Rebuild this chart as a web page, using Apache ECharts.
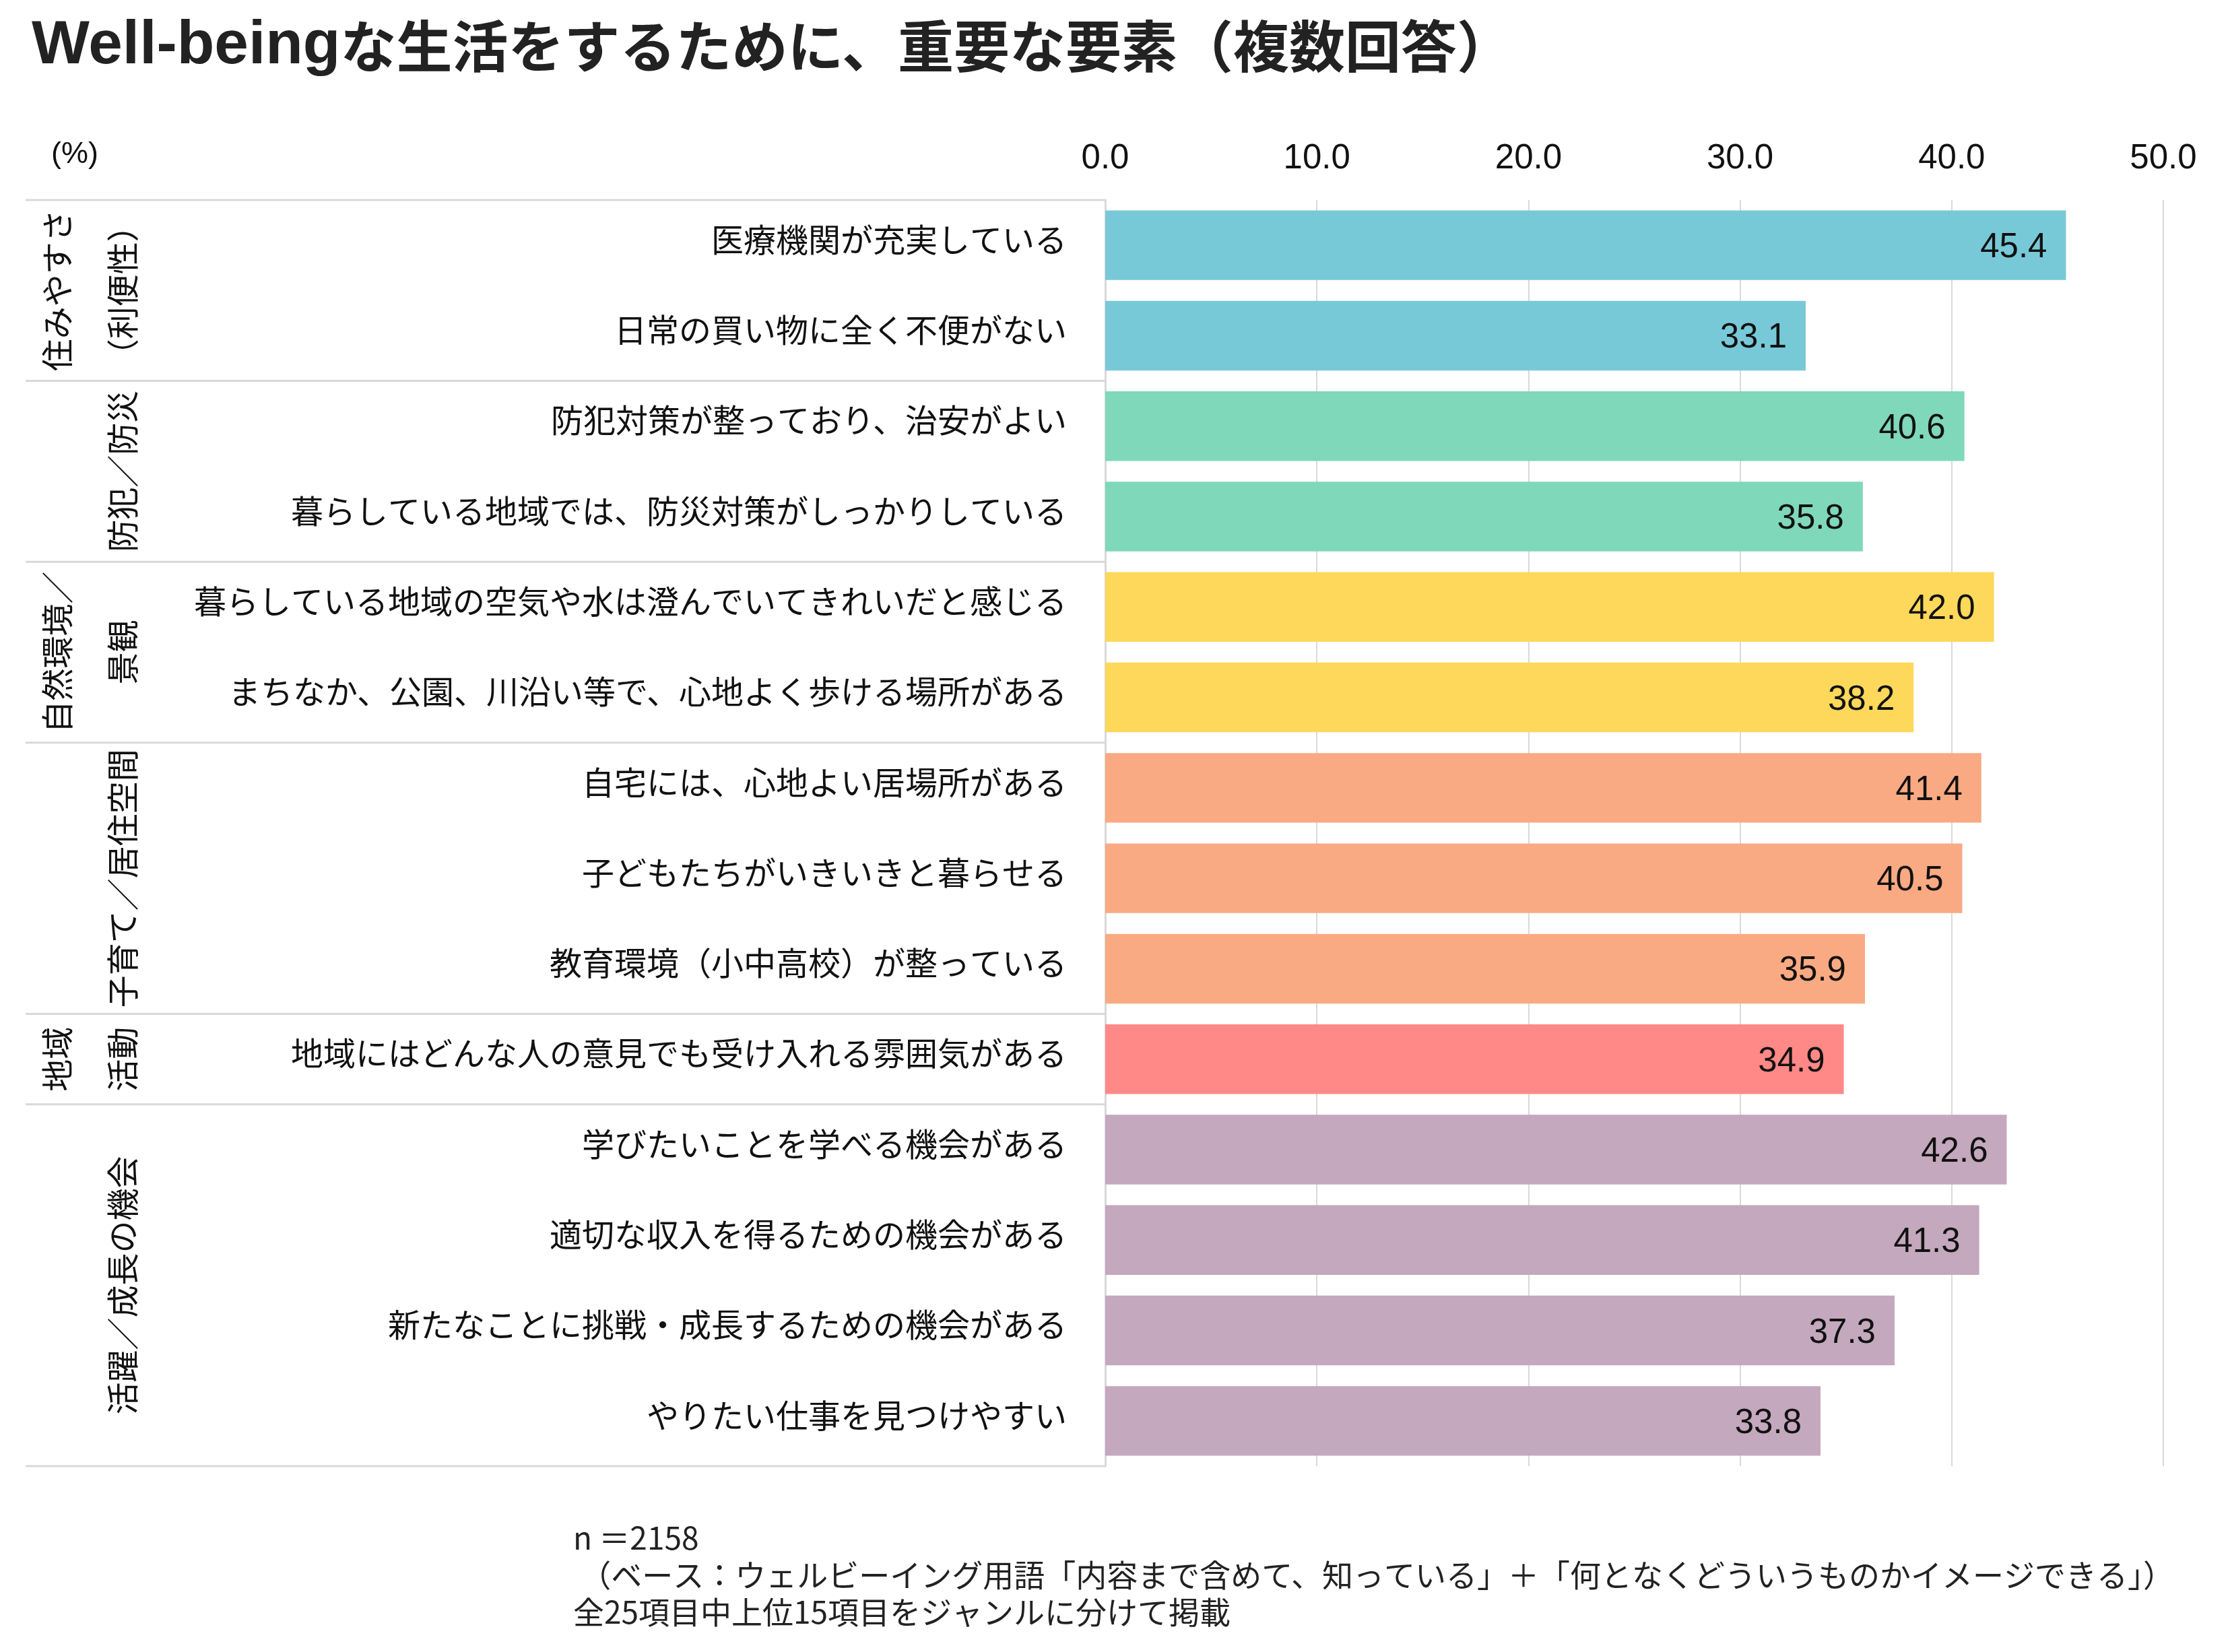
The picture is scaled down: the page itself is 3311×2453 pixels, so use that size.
<!DOCTYPE html>
<html>
<head>
<meta charset="utf-8">
<script src="https://cdn.jsdelivr.net/npm/echarts@6/dist/echarts.min.js"></script>
<style>
html,body{margin:0;padding:0;background:#fff;}
#chart{width:3311px;height:2453px;}
</style>
</head>
<body>
<div id="chart"></div>
<script>
const titleLatin = 'Well-being';
const titleRest = 'な生活をするために、重要な要素（複数回答）';
const unitText = '(%)';
const categories = [
  '医療機関が充実している',
  '日常の買い物に全く不便がない',
  '防犯対策が整っており、治安がよい',
  '暮らしている地域では、防災対策がしっかりしている',
  '暮らしている地域の空気や水は澄んでいてきれいだと感じる',
  'まちなか、公園、川沿い等で、心地よく歩ける場所がある',
  '自宅には、心地よい居場所がある',
  '子どもたちがいきいきと暮らせる',
  '教育環境（小中高校）が整っている',
  '地域にはどんな人の意見でも受け入れる雰囲気がある',
  '学びたいことを学べる機会がある',
  '適切な収入を得るための機会がある',
  '新たなことに挑戦・成長するための機会がある',
  'やりたい仕事を見つけやすい'
];
const values = [45.4, 33.1, 40.6, 35.8, 42.0, 38.2, 41.4, 40.5, 35.9, 34.9, 42.6, 41.3, 37.3, 33.8];
const groupOuter = ['住みやすさ', '', '自然環境／', '', '地域', ''];
const groupInner = ['（利便性）', '防犯／防災', '景観', '子育て／居住空間', '活動', '活躍／成長の機会'];
const groupSizes = [2, 2, 2, 3, 1, 4];
const groupColors = ['#78C9D7', '#7FD8B9', '#FED85A', '#F9AA82', '#FF8986', '#C4A8BD'];
const axisMin = 0, axisMax = 50, axisStep = 10;
const footnotes = [
  'n ＝2158',
  ' （ベース：ウェルビーイング用語「内容まで含めて、知っている」＋「何となくどういうものかイメージできる」）',
  '全25項目中上位15項目をジャンルに分けて掲載'
];

// colour for each bar from its group
const barColors = [];
groupSizes.forEach((n, g) => { for (let i = 0; i < n; i++) barColors.push(groupColors[g]); });

const GRID = {left: 1641, right: 99, top: 297, bottom: 276};
const TABLE_LEFT = 38;
const LINE_COLOR = '#d9d9d9';
const CJK = '"Noto Sans CJK JP", "Noto Sans", sans-serif';
const LATIN = '"Liberation Sans", Arial, sans-serif';

const chart = echarts.init(document.getElementById('chart'), null, {renderer: 'canvas'});

const option = {
  backgroundColor: '#ffffff',
  animation: false,
  title: {
    text: '{a|' + titleLatin + '}{b|' + titleRest + '}',
    left: 42, top: 18,
    textStyle: {
      rich: {
        a: {fontFamily: LATIN, fontWeight: 'bold', fontSize: 91, color: '#222222'},
        b: {fontFamily: CJK, fontWeight: 'bold', fontSize: 83, color: '#222222'}
      }
    }
  },
  grid: GRID,
  xAxis: {
    type: 'value', position: 'top',
    min: axisMin, max: axisMax, interval: axisStep,
    axisLine: {show: false}, axisTick: {show: false},
    splitLine: {show: true, lineStyle: {color: LINE_COLOR, width: 2}},
    axisLabel: {
      formatter: v => v.toFixed(1),
      fontFamily: LATIN, fontSize: 51, color: '#111111', margin: 36
    }
  },
  yAxis: {
    type: 'category', inverse: true, data: categories,
    axisLine: {show: true, lineStyle: {color: LINE_COLOR, width: 3}},
    axisTick: {show: false},
    splitLine: {show: false},
    axisLabel: {
      margin: 57, verticalAlign: 'middle',
      formatter: v => '{c|' + v + '}',
      rich: {c: {fontFamily: CJK, fontSize: 48, color: '#111111', padding: [0, 0, 17, 0]}}
    }
  },
  series: [{
    type: 'bar',
    data: values.map((v, i) => ({value: v, itemStyle: {color: barColors[i]}})),
    barCategoryGap: '23%',
    label: {
      show: true, position: 'insideRight', distance: 28, offset: [0, 4],
      formatter: p => p.value.toFixed(1),
      fontFamily: LATIN, fontSize: 51, color: '#111111'
    }
  }]
};
chart.setOption(option);

// table decoration: group separators and group labels
const y0 = chart.convertToPixel({yAxisIndex: 0}, 0);
const y1 = chart.convertToPixel({yAxisIndex: 0}, 1);
const step = y1 - y0;
const topEdge = y0 - step / 2;
const gridLeft = GRID.left;
const graphics = [];

function hline(y) {
  graphics.push({
    type: 'line', silent: true,
    shape: {x1: TABLE_LEFT, y1: y, x2: gridLeft, y2: y},
    style: {stroke: LINE_COLOR, lineWidth: 3}
  });
}
hline(topEdge);
let start = 0;
groupSizes.forEach((n, g) => {
  const a = topEdge + start * step;
  const b = topEdge + (start + n) * step;
  hline(b);
  const cy = (a + b) / 2;
  if (groupOuter[g]) {
    graphics.push({
      type: 'text', silent: true, x: 85, y: cy, rotation: Math.PI / 2,
      style: {text: groupOuter[g], align: 'center', verticalAlign: 'middle',
        font: '48px ' + CJK, fill: '#111111'}
    });
  }
  if (groupInner[g]) {
    graphics.push({
      type: 'text', silent: true, x: 182, y: cy, rotation: Math.PI / 2,
      style: {text: groupInner[g], align: 'center', verticalAlign: 'middle',
        font: '48px ' + CJK, fill: '#111111'}
    });
  }
  start += n;
});

graphics.push({
  type: 'text', silent: true, x: 76, y: 230,
  style: {text: unitText, align: 'left', verticalAlign: 'middle', font: '45px ' + LATIN, fill: '#111111'}
});
footnotes.forEach((t, i) => {
  graphics.push({
    type: 'text', silent: true, x: 851, y: 2284 + i * 55,
    style: {text: t, align: 'left', verticalAlign: 'middle', font: '46px ' + CJK, fill: '#222222'}
  });
});

chart.setOption({graphic: {elements: graphics}});
</script>
</body>
</html>
